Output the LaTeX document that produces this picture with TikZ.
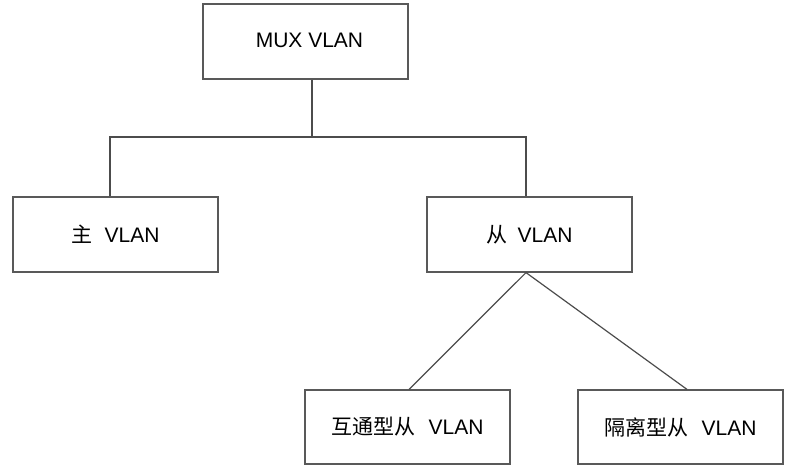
\documentclass[tikz,border=0pt]{standalone}
\usepackage{fontspec}
\setmainfont{Liberation Sans}
\newfontfamily\cjk{Noto Sans CJK SC}
\usetikzlibrary{calc}

\tikzset{
  vbox/.style={draw=black!65,line width=0.6pt,minimum width=102.5pt,minimum height=37.5pt,inner sep=0pt,font=\fontsize{10.5pt}{12pt}\selectfont},
  link/.style={draw=black!70,line width=0.6pt}
}

\begin{document}
\begin{tikzpicture}[x=0.5pt,y=-0.5pt]
  \useasboundingbox (0,0) rectangle (791,471);
  \node[vbox] (mux) at (305.5,41.5) {\hspace*{4pt}\raisebox{1.5pt}{MUX VLAN}};
  \node[vbox] (zhu) at (115.5,234.5) {{\cjk 主}\hspace{6pt}VLAN};
  \node[vbox] (cong) at (529.5,234.5) {{\cjk 从}\hspace{5pt}VLAN};
  \node[vbox,minimum height=37pt] (hutong) at (407.5,427) {{\cjk 互通型从}\hspace{6.5pt}VLAN};
  \node[vbox,minimum height=37pt] (geli) at (680.5,427) {{\cjk 隔离型从}\hspace{6.5pt}VLAN};
  % tree from MUX VLAN
  \coordinate (split) at (312,137);
  \draw[link] ([xshift=3.25pt]mux.south) -- (split);
  \draw[link] ([xshift=-2.75pt]zhu.north) |- (split) -| ([xshift=-1.75pt]cong.north);
  % slave VLAN split
  \draw[link] ([xshift=-1.75pt]cong.south) -- ([xshift=0.75pt]hutong.north);
  \draw[link] ([xshift=-1.75pt]cong.south) -- ([xshift=3.25pt]geli.north);
\end{tikzpicture}
\end{document}
